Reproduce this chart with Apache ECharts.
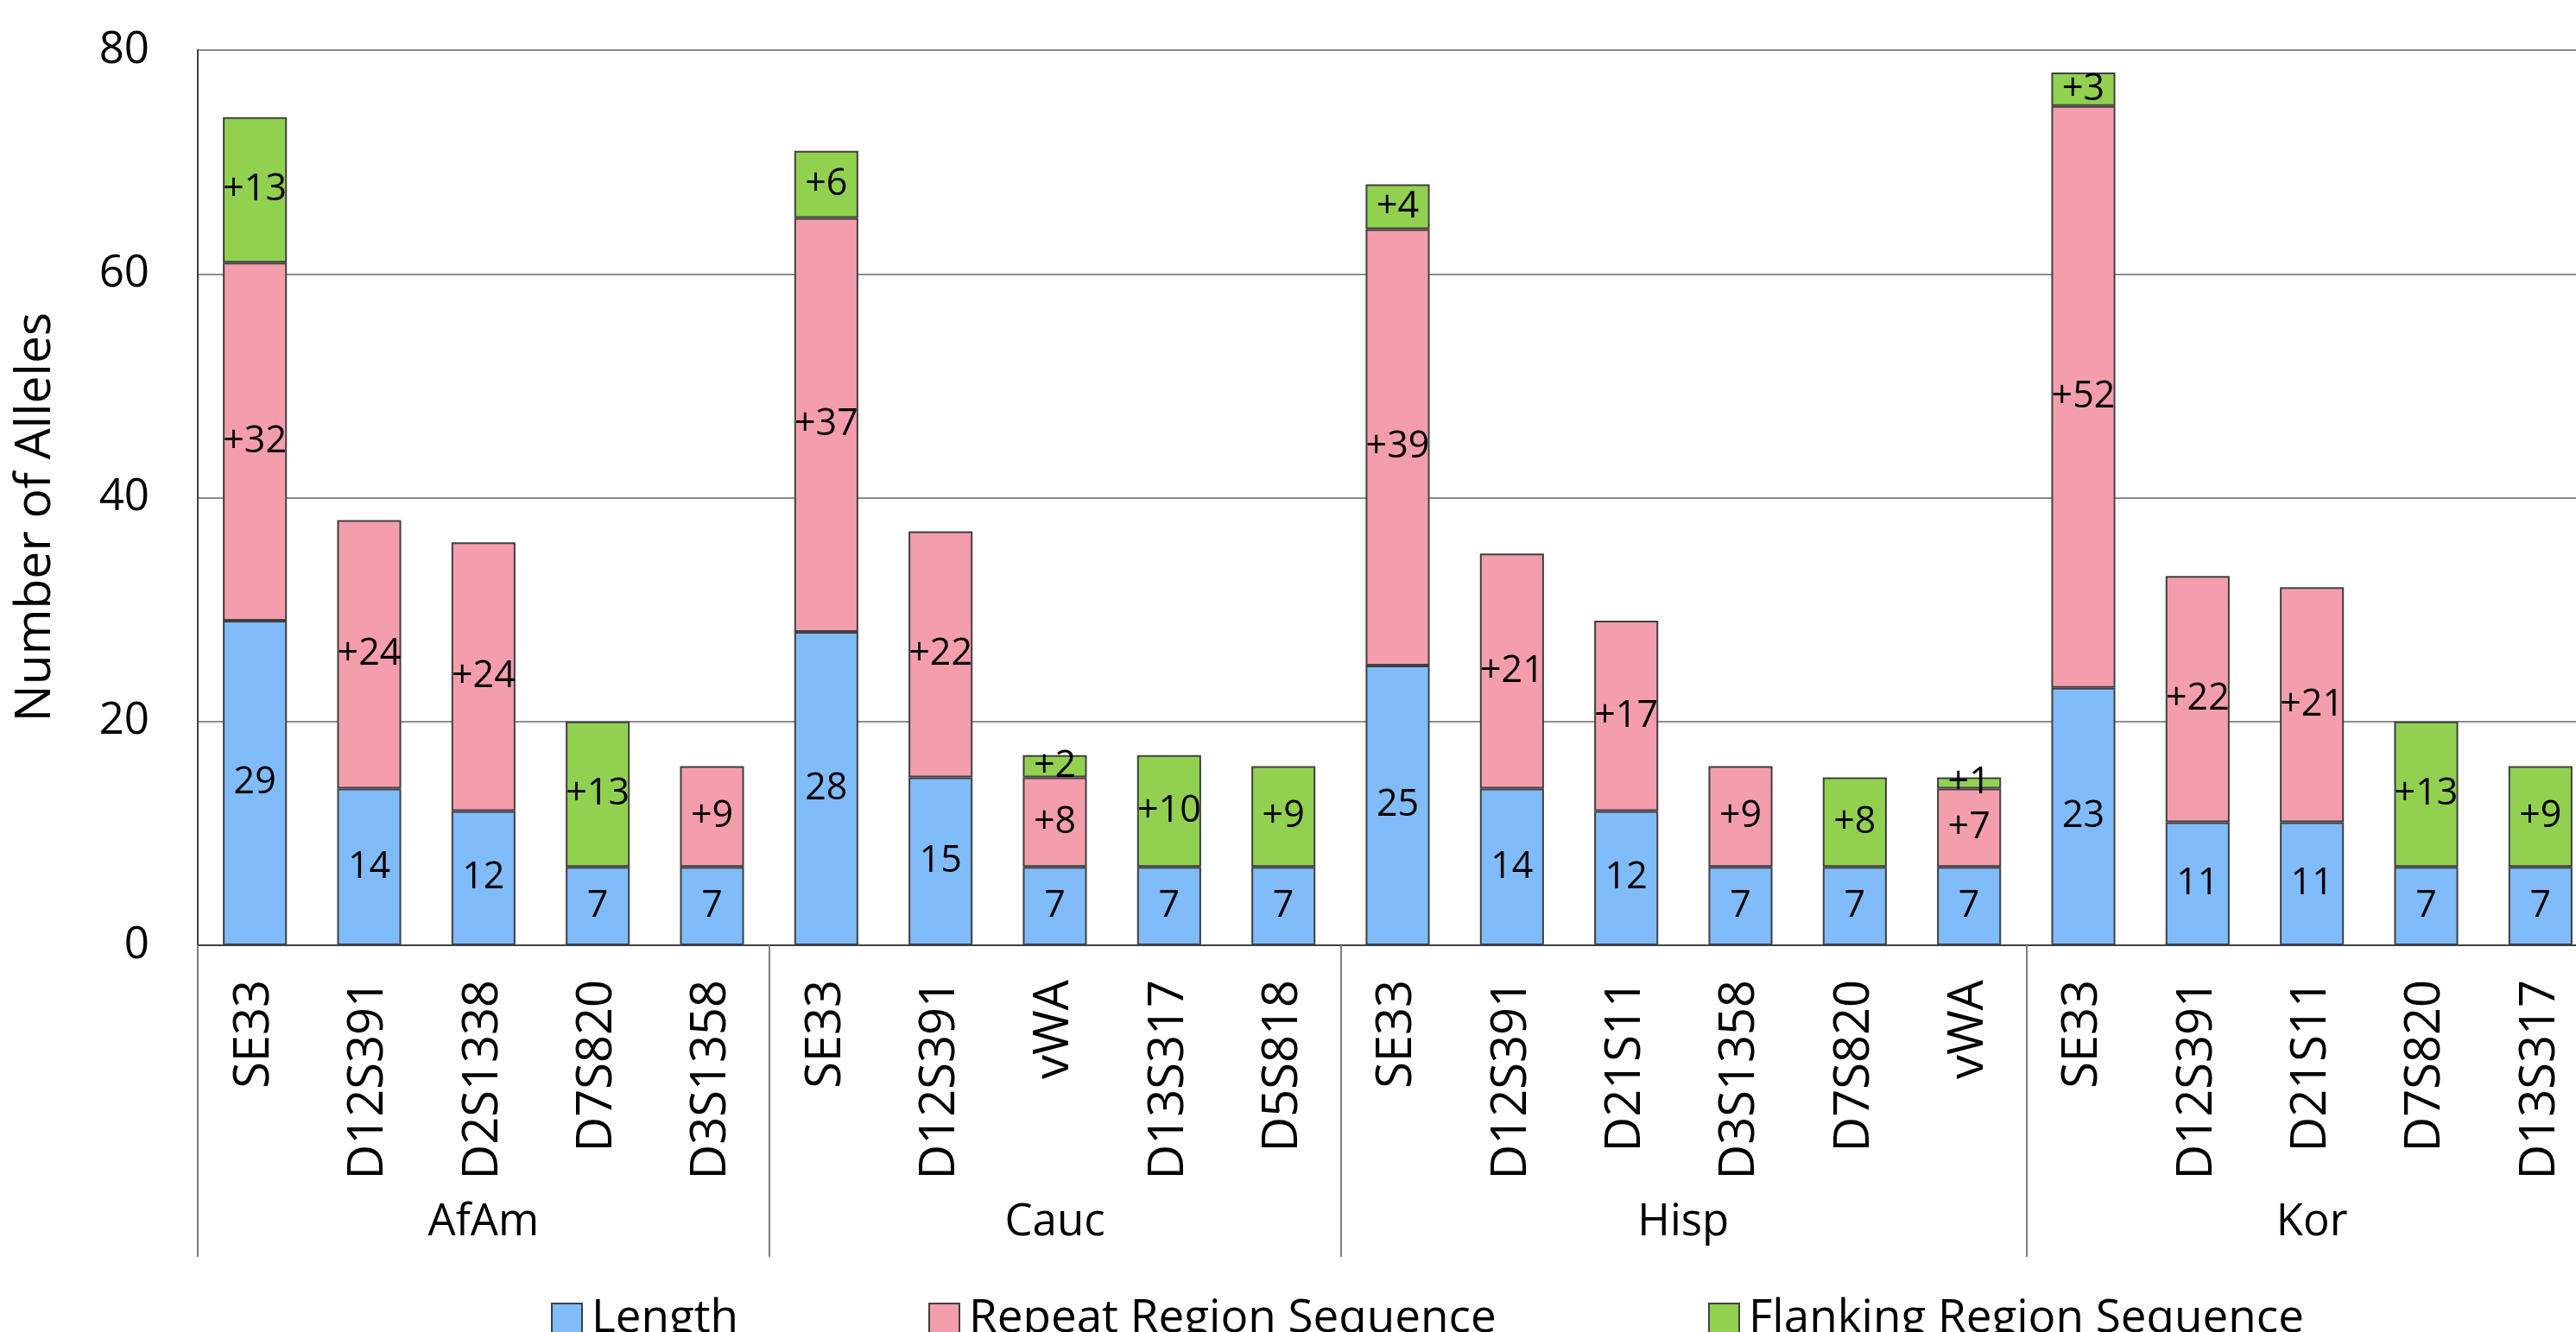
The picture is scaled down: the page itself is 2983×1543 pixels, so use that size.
<!DOCTYPE html>
<html>
<head>
<meta charset="utf-8">
<script src="https://cdn.jsdelivr.net/npm/echarts@6/dist/echarts.min.js"></script>
<style>
html,body{margin:0;padding:0;background:#fff;overflow:hidden;}
#chart{width:3010px;height:1543px;}
</style>
</head>
<body>
<div id="chart"></div>
<script>
// ---- data ----
const groups = ['AfAm', 'Cauc', 'Hisp', 'Kor'];
const groupCounts = [5, 5, 6, 5];
const loci = [
  'SE33','D12S391','D2S1338','D7S820','D3S1358',
  'SE33','D12S391','vWA','D13S317','D5S818',
  'SE33','D12S391','D21S11','D3S1358','D7S820','vWA',
  'SE33','D12S391','D21S11','D7S820','D13S317'
];
const lengthVals = [29,14,12,7,7, 28,15,7,7,7, 25,14,12,7,7,7, 23,11,11,7,7];
const repeatVals = [32,24,24,null,9, 37,22,8,null,null, 39,21,17,9,null,7, 52,22,21,null,null];
const flankVals  = [13,null,null,13,null, 6,null,2,10,9, 4,null,null,null,8,1, 3,null,null,13,9];
const seriesNames = ['Length', 'Repeat Region Sequence', 'Flanking Region Sequence'];
const yTicks = [0, 20, 40, 60, 80];

// group boundaries / centres on a 0..N value scale
const boundaries = [0];
groupCounts.forEach(c => boundaries.push(boundaries[boundaries.length - 1] + c));
const centres = groupCounts.map((c, i) => boundaries[i] + c / 2);

const FONT = '"Open Sans"';
const colors = ['#80BBFA', '#F49DAD', '#92D050'];
const border = '#404040';
const legendLefts = [633, 1070, 1973];

const chart = echarts.init(document.getElementById('chart'), null, {renderer: 'canvas'});

function mkSeries(name, data, color, plus) {
  return {
    name: name,
    type: 'bar',
    stack: 'total',
    xAxisIndex: 0,
    yAxisIndex: 0,
    data: data,
    barCategoryGap: '44%',
    itemStyle: {color: color, borderColor: border, borderWidth: 2},
    label: {
      show: true,
      position: 'inside',
      color: '#000',
      fontFamily: FONT,
      fontSize: 43,
      formatter: p => (p.value == null ? '' : (plus ? '+' : '') + p.value)
    },
    emphasis: {disabled: true}
  };
}

chart.setOption({
  animation: false,
  backgroundColor: '#fff',
  textStyle: {fontFamily: FONT},
  grid: {left: 229, top: 58, width: 2779, height: 1037, containLabel: false},
  legend: seriesNames.map((n, i) => ({
    left: legendLefts[i],
    top: 1496,
    itemWidth: 35,
    itemHeight: 35,
    icon: 'rect',
    selectedMode: false,
    data: [n],
    textStyle: {fontFamily: FONT, fontSize: 53, color: '#000', padding: [0, 0, 0, 6]}
  })),
  xAxis: [
    {
      type: 'category',
      data: loci,
      position: 'bottom',
      axisLine: {show: true, lineStyle: {color: border, width: 2}},
      axisTick: {show: false},
      axisLabel: {
        rotate: 90,
        margin: 40,
        interval: 0,
        color: '#000',
        fontFamily: FONT,
        fontSize: 56
      },
      splitLine: {show: false}
    },
    {
      type: 'value',
      min: 0,
      max: loci.length,
      position: 'bottom',
      axisLine: {show: false},
      axisTick: {
        show: true,
        inside: false,
        length: 361,
        customValues: boundaries,
        lineStyle: {color: '#7f7f7f', width: 2}
      },
      axisLabel: {
        show: true,
        margin: 296,
        color: '#000',
        fontFamily: FONT,
        fontSize: 51,
        customValues: centres,
        formatter: v => {
          const i = centres.findIndex(c => Math.abs(c - v) < 1e-6);
          return i >= 0 ? groups[i] : '';
        }
      },
      splitLine: {show: false}
    }
  ],
  yAxis: {
    type: 'value',
    min: yTicks[0],
    max: yTicks[yTicks.length - 1],
    interval: yTicks[1] - yTicks[0],
    axisLine: {show: true, lineStyle: {color: border, width: 2}},
    axisTick: {show: false},
    axisLabel: {margin: 56, color: '#000', fontFamily: FONT, fontSize: 51},
    splitLine: {show: true, lineStyle: {color: '#8c8c8c', width: 2}}
  },
  graphic: [{
    type: 'text',
    x: 42,
    y: 599,
    rotation: Math.PI / 2,
    style: {
      text: 'Number of Alleles',
      fill: '#000',
      font: '57px "Open Sans"',
      align: 'center',
      verticalAlign: 'middle'
    }
  }],
  series: [
    mkSeries(seriesNames[0], lengthVals, colors[0], false),
    mkSeries(seriesNames[1], repeatVals, colors[1], true),
    mkSeries(seriesNames[2], flankVals, colors[2], true)
  ]
});
</script>
</body>
</html>
